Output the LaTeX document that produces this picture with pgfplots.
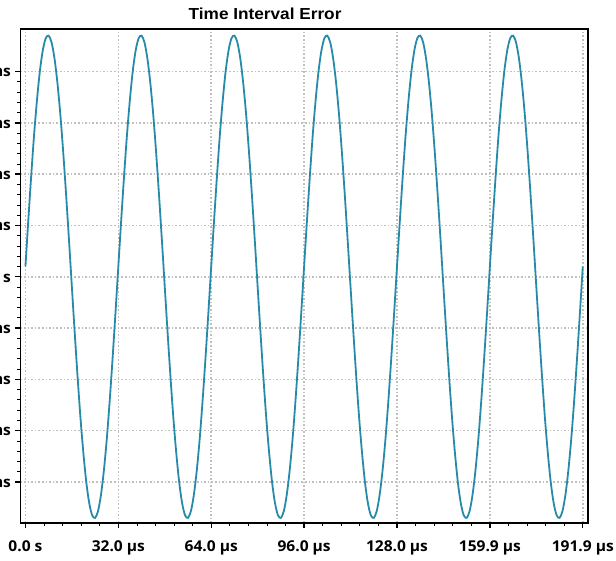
\documentclass[border=0pt]{standalone}
\usepackage{fontspec}
\usepackage{pgfplots}
\pgfplotsset{compat=1.18}
\setmainfont{Open Sans}
\newfontfamily\ticklabelfont{Open Sans}[FakeStretch=1.04]
\newfontfamily\titlefont{Liberation Sans}[FakeStretch=1.08]
\definecolor{tiecolor}{RGB}{38,138,168}
\definecolor{gridgray}{RGB}{192,192,192}
\begin{document}
\begin{tikzpicture}
\begin{axis}[
  at={(0,0)}, anchor=south west,
  width=567.5bp, height=494bp, scale only axis,
  xmin=-1.7, xmax=193.8, ymin=-4.8, ymax=4.83,
  axis line style={line width=1.6bp, black},
  xtick={0,32,64,96,128,160,192},
  xticklabels={0.0 s, 32.0 µs, 64.0 µs, 96.0 µs, 128.0 µs, 159.9 µs, 191.9 µs},
  ytick={-4,-3,-2,-1,0,1,2,3,4},
  yticklabels={-4.0 ns, -3.0 ns, -2.0 ns, -1.0 ns, 0.0 s, 1.0 ns, 2.0 ns, 3.0 ns, 4.0 ns},
  minor x tick num=4, minor y tick num=4,
  tick pos=left, tick align=outside,
  major tick length=5bp, minor tick length=3bp,
  major tick style={black, line width=1.4bp},
  minor tick style={black, line width=0.8bp},
  xmajorgrids, ymajorgrids,
  major grid style={gridgray, line width=1.6bp, dash pattern=on 1.6bp off 2.0bp},
  tick label style={font=\ticklabelfont\bfseries\fontsize{15}{15}\selectfont},
  xticklabel style={yshift=-9bp},
  yticklabel style={xshift=-1bp},
  title={Time Interval Error},
  title style={font=\titlefont\bfseries\fontsize{16}{17}\selectfont,
    at={(0.431,1)}, anchor=base, yshift=4bp},
]
% time interval error, one sample per 1/32 of the period
\addplot[tiecolor, line width=1.8bp, smooth] coordinates {
(0,0.20) (1,1.11) (2,1.98) (3,2.78) (4,3.46) (5,4.02) (6,4.42) (7,4.65)
(8,4.70) (9,4.57) (10,4.26) (11,3.79) (12,3.18) (13,2.44) (14,1.61) (15,0.72)
(16,-0.20) (17,-1.11) (18,-1.98) (19,-2.78) (20,-3.46) (21,-4.02) (22,-4.42) (23,-4.65)
(24,-4.70) (25,-4.57) (26,-4.26) (27,-3.79) (28,-3.18) (29,-2.44) (30,-1.61) (31,-0.72)
(32,0.20) (33,1.11) (34,1.98) (35,2.78) (36,3.46) (37,4.02) (38,4.42) (39,4.65)
(40,4.70) (41,4.57) (42,4.26) (43,3.79) (44,3.18) (45,2.44) (46,1.61) (47,0.72)
(48,-0.20) (49,-1.11) (50,-1.98) (51,-2.78) (52,-3.46) (53,-4.02) (54,-4.42) (55,-4.65)
(56,-4.70) (57,-4.57) (58,-4.26) (59,-3.79) (60,-3.18) (61,-2.44) (62,-1.61) (63,-0.72)
(64,0.20) (65,1.11) (66,1.98) (67,2.78) (68,3.46) (69,4.02) (70,4.42) (71,4.65)
(72,4.70) (73,4.57) (74,4.26) (75,3.79) (76,3.18) (77,2.44) (78,1.61) (79,0.72)
(80,-0.20) (81,-1.11) (82,-1.98) (83,-2.78) (84,-3.46) (85,-4.02) (86,-4.42) (87,-4.65)
(88,-4.70) (89,-4.57) (90,-4.26) (91,-3.79) (92,-3.18) (93,-2.44) (94,-1.61) (95,-0.72)
(96,0.20) (97,1.11) (98,1.98) (99,2.78) (100,3.46) (101,4.02) (102,4.42) (103,4.65)
(104,4.70) (105,4.57) (106,4.26) (107,3.79) (108,3.18) (109,2.44) (110,1.61) (111,0.72)
(112,-0.20) (113,-1.11) (114,-1.98) (115,-2.78) (116,-3.46) (117,-4.02) (118,-4.42) (119,-4.65)
(120,-4.70) (121,-4.57) (122,-4.26) (123,-3.79) (124,-3.18) (125,-2.44) (126,-1.61) (127,-0.72)
(128,0.20) (129,1.11) (130,1.98) (131,2.78) (132,3.46) (133,4.02) (134,4.42) (135,4.65)
(136,4.70) (137,4.57) (138,4.26) (139,3.79) (140,3.18) (141,2.44) (142,1.61) (143,0.72)
(144,-0.20) (145,-1.11) (146,-1.98) (147,-2.78) (148,-3.46) (149,-4.02) (150,-4.42) (151,-4.65)
(152,-4.70) (153,-4.57) (154,-4.26) (155,-3.79) (156,-3.18) (157,-2.44) (158,-1.61) (159,-0.72)
(160,0.20) (161,1.11) (162,1.98) (163,2.78) (164,3.46) (165,4.02) (166,4.42) (167,4.65)
(168,4.70) (169,4.57) (170,4.26) (171,3.79) (172,3.18) (173,2.44) (174,1.61) (175,0.72)
(176,-0.20) (177,-1.11) (178,-1.98) (179,-2.78) (180,-3.46) (181,-4.02) (182,-4.42) (183,-4.65)
(184,-4.70) (185,-4.57) (186,-4.26) (187,-3.79) (188,-3.18) (189,-2.44) (190,-1.61) (191,-0.72)
(192,0.20)
};
\end{axis}
% page area: the y tick labels run past the left edge
\pgfresetboundingbox
\useasboundingbox (-20.5bp,-38bp) rectangle (595.5bp,523bp);
\end{tikzpicture}
\end{document}
